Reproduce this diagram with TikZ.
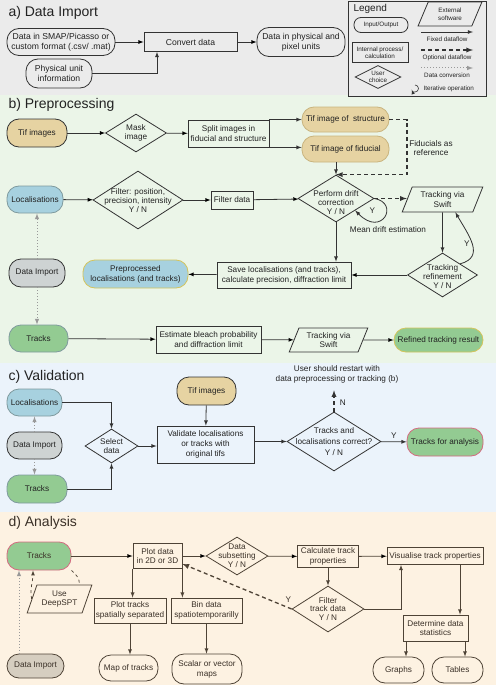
\documentclass[tikz,border=0pt]{standalone}
\usepackage{fontspec}
\setmainfont{Liberation Sans}
\usetikzlibrary{arrows,shapes.geometric}

\definecolor{bga}{HTML}{EBEBEB}
\definecolor{bgb}{HTML}{EBF5E8}
\definecolor{bgc}{HTML}{EBF3FB}
\definecolor{bgd}{HTML}{FDF2E2}
\definecolor{ink}{HTML}{333333}
\definecolor{inkd}{HTML}{4E4336}
\definecolor{txt}{HTML}{222222}
\definecolor{txtd}{HTML}{3A3027}
\definecolor{tan}{HTML}{E6D3A2}
\definecolor{tanline}{HTML}{C9B47E}
\definecolor{locblue}{HTML}{A7D1DF}
\definecolor{trkgreen}{HTML}{93CB92}
\definecolor{impgray}{HTML}{CED3D3}
\definecolor{impbrown}{HTML}{D6CEC0}
\definecolor{softline}{HTML}{7F9A9E}
\definecolor{yelline}{HTML}{D4C45C}
\definecolor{pinkline}{HTML}{D46A80}
\definecolor{convgray}{HTML}{999999}

% text of a diamond, moved down a little
\newcommand{\lowered}[2]{\raisebox{-#1}[\height][\depth]{\begin{tabular}{@{}c@{}}#2\end{tabular}}}

\begin{document}
\begin{tikzpicture}[x=1pt,y=1pt,
  every node/.style={font=\fontsize{8.2}{9.8}\selectfont,text=txt,align=center},
  head/.style={font=\fontsize{14}{16}\selectfont,anchor=west},
  legend/.style={font=\fontsize{6.3}{7.5}\selectfont},
  big/.style={font=\fontsize{8.6}{10.2}\selectfont},
  sz/.style 2 args={minimum width=#1,minimum height=#2},
  term/.style={draw=ink,rectangle,rounded corners=#1,inner sep=1pt,line width=0.8pt},
  term/.default=12pt,
  proc/.style={draw=ink,rectangle,inner sep=1pt,line width=0.8pt},
  choice/.style={draw=ink,diamond,inner sep=-30pt,line width=0.8pt,font=\fontsize{8.2}{8.9}\selectfont},
  soft/.style={draw=ink,trapezium,trapezium left angle=67,trapezium right angle=113,
    trapezium stretches=true,inner sep=1pt,line width=0.8pt},
  flow/.style={draw=ink,-latex,line width=0.8pt},
  opt/.style={draw=ink,-latex,dash pattern=on 4pt off 3pt,line width=1.3pt},
  conv/.style={draw=convgray,-latex,dotted,line width=1pt}]

  \useasboundingbox (0,0) rectangle (496,-685);
  \fill[bga] (0,0) rectangle (496,-95);
  \fill[bgb] (0,-95) rectangle (496,-363);
  \fill[bgc] (0,-363) rectangle (496,-512);
  \fill[bgd] (0,-512) rectangle (496,-685);

  % a) data import
  \node[head] (ttla) at (5,-13) {a) Data Import};
  \node[term,sz={108}{27},big] (smap) at (61,-42) {Data in SMAP/Picasso or\\custom format (.csv/ .mat)};
  \node[term,sz={66}{29},big] (phys) at (59,-73.5) {Physical unit\\information};
  \node[proc,sz={93}{19},big] (convert) at (190.5,-42) {Convert data};
  \node[term,sz={88}{29},big] (pix) at (301,-42) {Data in physical and\\pixel units};

  \draw[flow] (smap) edge (convert) (convert) edge (pix);
  \draw[flow] (phys) -| ([xshift=-33.5pt]convert.south);

  % legend
  \draw[draw=ink,fill=bga,line width=0.8pt] (348,-1) rectangle (486,-96);
  \node[anchor=west,font=\fontsize{10}{12}\selectfont] (lgtitle) at (350,-9) {Legend};
  \node[term=7pt,sz={54}{15},legend] (lgio) at (381,-25) {Input/Output};
  \node[soft,sz={64}{24},legend] (lgsoft) at (450,-14) {External\\software};
  \node[proc,sz={56}{20},legend] (lgproc) at (380,-52.5) {Internal process/\\calculation};
  \node[choice,sz={46}{23},legend] (lgchoice) at (378,-77) {User\\choice};
  \coordinate (fix1) at (421,-32);
  \coordinate (fix2) at (473,-32);
  \coordinate (opt1) at (421,-50);
  \coordinate (opt2) at (473,-50);
  \coordinate (conv1) at (421,-68);
  \coordinate (conv2) at (473,-68);
  \draw[flow] (fix1) -- (fix2);
  \draw[opt] (opt1) -- (opt2);
  \draw[conv] (conv1) -- (conv2);
  \node[legend] (lgfix) at (447,-39.5) {Fixed dataflow};
  \node[legend] (lgopt) at (447,-57.5) {Optional dataflow};
  \node[legend] (lgconv) at (447,-75.5) {Data conversion};
  \draw[draw=ink,-latex,line width=0.6pt] (415,-85) arc (90:-160:3.5);
  \node[legend,anchor=west] (lgiter) at (420,-88.5) {Iterative operation};

  % b) preprocessing
  \node[head] (ttlb) at (5,-105) {b) Preprocessing};
  \node[term,sz={60}{28},fill=tan] (tifb) at (37,-133) {Tif images};
  \node[choice,sz={61}{38}] (mask) at (136,-133) {Mask\\image};
  \node[proc,sz={81}{27}] (split) at (228.5,-133.5) {Split images in\\fiducial and structure};
  \node[term,sz={87}{25},fill=tan,draw=tanline] (struct) at (345.5,-119.5) {Tif image of \ structure};
  \node[term,sz={87}{26},fill=tan,draw=tanline] (fid) at (345.5,-149) {Tif image of fiducial};
  \node (fidref) at (431,-148) {Fiducials as\\reference};

  \node[term,sz={56}{27},fill=locblue,draw=softline] (loc) at (35,-199.5) {Localisations};
  \node[choice,sz={90}{58}] (filt) at (138,-200) {\lowered{1.5pt}{Filter: position,\\precision, intensity\\Y / N}};
  \node[proc,sz={42}{18}] (fdata) at (232,-200) {Filter data};
  \node[choice,sz={76}{47}] (drift) at (336,-198.5) {\lowered{5pt}{Perform drift\\correction\\Y / N}};
  \node[soft,sz={81}{25}] (swift1) at (442.5,-199.5) {Tracking via\\Swift};
  \node (mean) at (388,-230) {Mean drift estimation};

  \node[term,sz={56}{28},fill=impgray] (dib) at (37,-273) {Data Import};
  \node[term,sz={105}{28},fill=locblue,draw=yelline] (prep) at (135.5,-274) {Preprocessed\\localisations (and tracks)};
  \node[proc,sz={134}{26}] (save) at (284,-275) {Save localisations (and tracks),\\calculate precision, diffraction limit};
  \node[choice,sz={70}{44}] (ref1) at (442.5,-275) {\lowered{2.5pt}{Tracking\\refinement\\Y / N}};

  \node[term,sz={59}{27},fill=trkgreen,draw=softline] (trb) at (38.5,-338.5) {Tracks};
  \node[proc,sz={105}{27}] (est) at (208.5,-339.5) {Estimate bleach probability\\and diffraction limit};
  \node[soft,sz={79}{24}] (swift2) at (328.5,-340) {Tracking via\\Swift};
  \node[term,sz={89}{24},fill=trkgreen,draw=yelline] (refined) at (438.5,-340) {Refined tracking result};

  \draw[flow] (tifb) edge (mask) (mask) edge (split);
  \draw[flow] (split.north east) -- (split.north east -| struct.west);
  \draw[flow] (split.south east) -- (split.south east -| fid.west);
  \coordinate (fidbend) at (407,-119.5);
  \draw[opt] (struct.east) -- (fidbend) |- (drift.north);
  \draw[flow] (fid.south -| drift.north) -- (drift.north);
  \draw[flow] (loc) edge (filt) (filt) edge (fdata) (fdata) edge (drift);
  \draw[opt] (drift.east) -- (drift.east -| swift1.west);
  \draw[flow] (drift.east) .. controls (400,-203) and (382,-238) .. node[pos=0.35,left=8pt] {Y} (drift.south east);
  \draw[flow] (drift.south) -- (drift.south |- save.north);
  \draw[flow] (swift1.south) -- (ref1.north);
  \draw[flow] (ref1.north east) to[out=15,in=-60,looseness=1.3] node[pos=0.5,left=-1pt] {Y} (swift1.south east);
  \draw[flow] (ref1) edge (save) (save) edge (prep);
  \draw[conv] (dib.north) -- (dib.north |- loc.south);
  \draw[conv] (dib.south) -- (dib.south |- trb.north);
  \draw[flow] (trb) edge (est) (est) edge (swift2) (swift2) edge (refined);

  % c) validation
  \node[head] (ttlc) at (5,-377) {c) Validation};
  \node[term,sz={55}{27},fill=locblue,draw=softline] (locc) at (34.5,-402.5) {Localisations};
  \node[term,sz={55}{27},fill=impgray] (dic) at (34.5,-445.5) {Data Import};
  \node[term,sz={60}{28},fill=trkgreen,draw=softline] (trc) at (37,-489) {Tracks};
  \node[choice,sz={53}{34}] (sel) at (111.5,-446) {Select\\data};
  \node[term,sz={59}{28},fill=tan] (tifc) at (206.5,-391) {Tif images};
  \node[proc,sz={97}{37}] (val) at (205.5,-444.5) {Validate localisations\\or tracks with\\original tifs};
  \node[choice,sz={94}{59},font=\fontsize{8.2}{11}\selectfont] (corr) at (334,-441.5) {Tracks and\\localisations correct?\\Y / N};
  \node[term,sz={76}{28},fill=trkgreen,draw=pinkline] (tfa) at (445,-442) {Tracks for analysis};
  \node (restart) at (337,-374) {User should restart with\\data preprocessing or tracking (b)};

  \draw[conv] (dic.north) -- (dic.north |- locc.south);
  \draw[conv] (dic.south) -- (dic.south |- trc.north);
  \draw[flow] (locc.east) -| (sel.north);
  \draw[flow] (trc.east) -| (sel.south);
  \draw[flow] (sel.east) -- (sel.east -| val.west);
  \draw[flow] (tifc) -- (val);
  \draw[flow] (val.east |- corr.west) -- (corr.west);
  \draw[flow] (corr) -- node[above] {Y} (tfa);
  \draw[opt,shorten >=4pt] (corr.north) -- node[right=2pt,pos=0.35] {N} (corr.north |- restart.south);

  % d) analysis
  \begin{scope}
  \colorlet{ink}{inkd}
  \colorlet{txt}{txtd}
  \node[head] (ttld) at (5,-523) {d) Analysis};
  \node[term,sz={64}{28},fill=trkgreen,draw=pinkline] (trd) at (39,-556) {Tracks};
  \node[proc,sz={49}{25}] (plot) at (157.5,-556) {Plot data\\in 2D or 3D};
  \node[choice,sz={62}{38}] (sub) at (237,-556) {Data\\subsetting\\Y / N};
  \node[proc,sz={61}{22}] (calc) at (328,-556.5) {Calculate track\\properties};
  \node[proc,sz={96}{17}] (vis) at (435,-556) {Visualise track properties};
  \node[choice,sz={72}{46}] (filtd) at (328,-609) {Filter\\track data\\Y / N};
  \node[soft,sz={65}{28}] (dsp) at (59.5,-599) {Use\\DeepSPT};
  \node[proc,sz={72}{25}] (pts) at (130,-610.5) {Plot tracks\\spatially separated};
  \node[proc,sz={71}{25}] (bin) at (206.5,-610.5) {Bin data\\spatiotemporarilly};
  \node[proc,sz={65}{26}] (det) at (435.5,-628) {Determine data\\statistics};
  \node[term,sz={57}{24},fill=impbrown] (did) at (35.5,-666) {Data Import};
  \node[term,sz={59}{26}] (map) at (128.5,-668) {Map of tracks};
  \node[term,sz={70}{30}] (scal) at (207,-669) {Scalar or vector\\maps};
  \node[term,sz={51}{26}] (graphs) at (398.5,-670) {Graphs};
  \node[term,sz={51}{26}] (tables) at (457.5,-670) {Tables};

  \draw[flow] (trd) edge (plot) (plot) edge (sub) (sub) edge (calc) (calc) edge (vis);
  \draw[flow] (calc) -- (filtd);
  \draw[flow] (filtd.east) -| ([xshift=-34pt]vis.south);
  \draw[opt] (filtd.west) -- node[pos=0.03,above=1pt] {Y} ([yshift=5pt]plot.south east);
  \draw[flow] (plot.south west) -- (plot.south west |- pts.north);
  \draw[flow] (plot.south east) -- (plot.south east |- bin.north);
  \draw[flow] (pts.south) -- (pts.south |- map.north);
  \draw[flow] (bin.south) -- (bin.south |- scal.north);
  \draw[flow] ([xshift=25pt]vis.south) -- ([xshift=25pt]vis.south |- det.north);
  \draw[flow] ([xshift=-29.5pt]det.south) -- ([xshift=-29.5pt]det.south |- graphs.north);
  \draw[flow] ([xshift=29.5pt]det.south) -- ([xshift=29.5pt]det.south |- tables.north);
  \draw[conv] ([xshift=-16.5pt]did.north) -- ([xshift=-16.5pt]did.north |- trd.south);
  \draw[draw=ink,dashed,line width=0.7pt] (trd.south east) to[out=-40,in=90] ([xshift=20pt]dsp.north);
  \draw[draw=ink,dashed,line width=0.7pt,-latex] (dsp.west) to[out=100,in=-90] ([xshift=-6pt]trd.south);
  \end{scope}

\end{tikzpicture}
\end{document}
